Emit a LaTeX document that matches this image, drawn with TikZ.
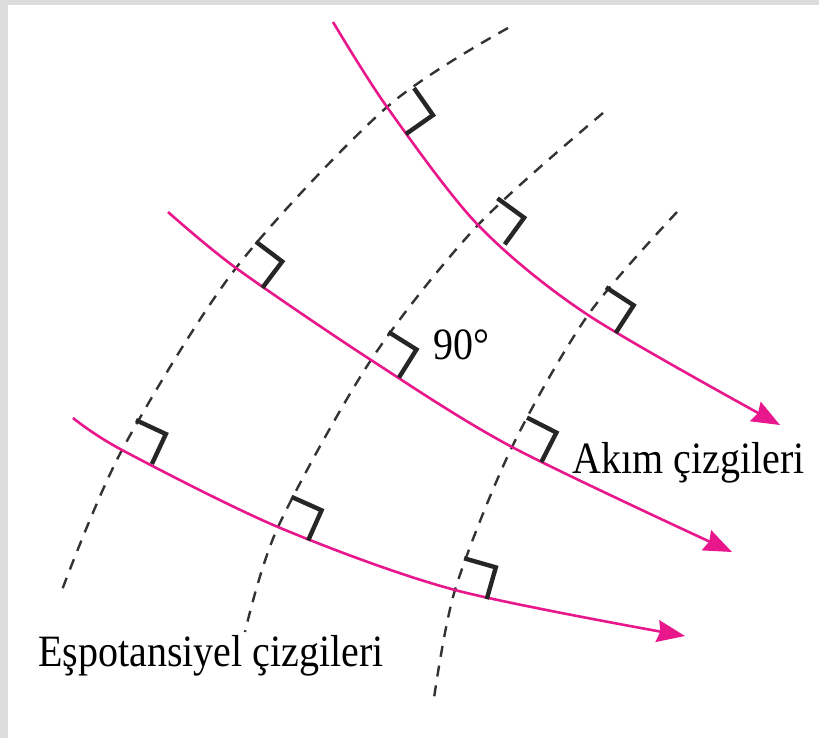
\documentclass[tikz,border=0pt]{standalone}
\usepackage{fontspec}
\setmainfont{Liberation Serif}
\usetikzlibrary{arrows.meta, calc}

\definecolor{akim}{RGB}{232,24,140}
\definecolor{cerceve}{RGB}{221,221,221}

\begin{document}
\begin{tikzpicture}[x=0.5pt, y=-0.5pt,
        akimcizgisi/.style={akim, line width=1.3pt, -{Stealth[length=14pt, width=11pt, inset=1.5pt]}},
        espotansiyel/.style={black!80, line width=1.2pt, dash pattern=on 5.5pt off 4.5pt},
        dikaci/.style={black!85, line width=2.2pt, line join=miter},
        etiket/.style={inner sep=0pt, anchor=base west, font=\fontsize{20}{24}\selectfont}]

        % Cerceve
        \fill[cerceve] (0,0) rectangle (819,738);
        \fill[white] (8,5) rectangle (819,738);
        \useasboundingbox (0,0) rectangle (819,738);

        % Kesisim noktalari
        \coordinate (k11) at (387,107);
        \coordinate (k12) at (478,225);
        \coordinate (k13) at (588,315);
        \coordinate (k21) at (236,268);
        \coordinate (k22) at (371,360);
        \coordinate (k23) at (512,447);
        \coordinate (k31) at (122,450);
        \coordinate (k32) at (278,527);
        \coordinate (k33) at (455,590);

        % Espotansiyel cizgileri
        \draw[espotansiyel] plot[smooth] coordinates {(508,28) (k11) (k21) (k31) (62,590)};
        \draw[espotansiyel] plot[smooth] coordinates {(603,113) (k12) (k22) (k32) (245,632)};
        \draw[espotansiyel] plot[smooth] coordinates {(677,212) (k13) (k23) (k33) (433,705)};

        % Akim cizgileri
        \draw[akimcizgisi] plot[smooth] coordinates {(333,22) (k11) (k12) (k13) (780,425)};
        \draw[akimcizgisi] plot[smooth] coordinates {(168,212) (k21) (k22) (k23) (732,552)};
        \draw[akimcizgisi] plot[smooth] coordinates {(73,418) (k31) (k32) (k33) (685,636)};

        % Dik aci isaretleri
        \foreach \p/\t in {k11/55, k12/36, k13/33, k21/37, k22/32, k23/27, k31/25, k32/24, k33/16} {
            \draw[dikaci] ($(\p)+({33*sin(\t)},{-33*cos(\t)})$)
                -- ++({33*cos(\t)},{33*sin(\t)})
                -- ($(\p)+({33*cos(\t)},{33*sin(\t)})$);
        }

        % Etiketler
        \node[etiket] (aci) at (433,359) {\scalebox{1}[1.12]{90°}};
        \node[etiket] (akimlbl) at (572,473) {\scalebox{1}[1.12]{Akım çizgileri}};
        \node[etiket] (esplbl) at (38,666) {\scalebox{1}[1.12]{Eşpotansiyel çizgileri}};
\end{tikzpicture}
\end{document}
